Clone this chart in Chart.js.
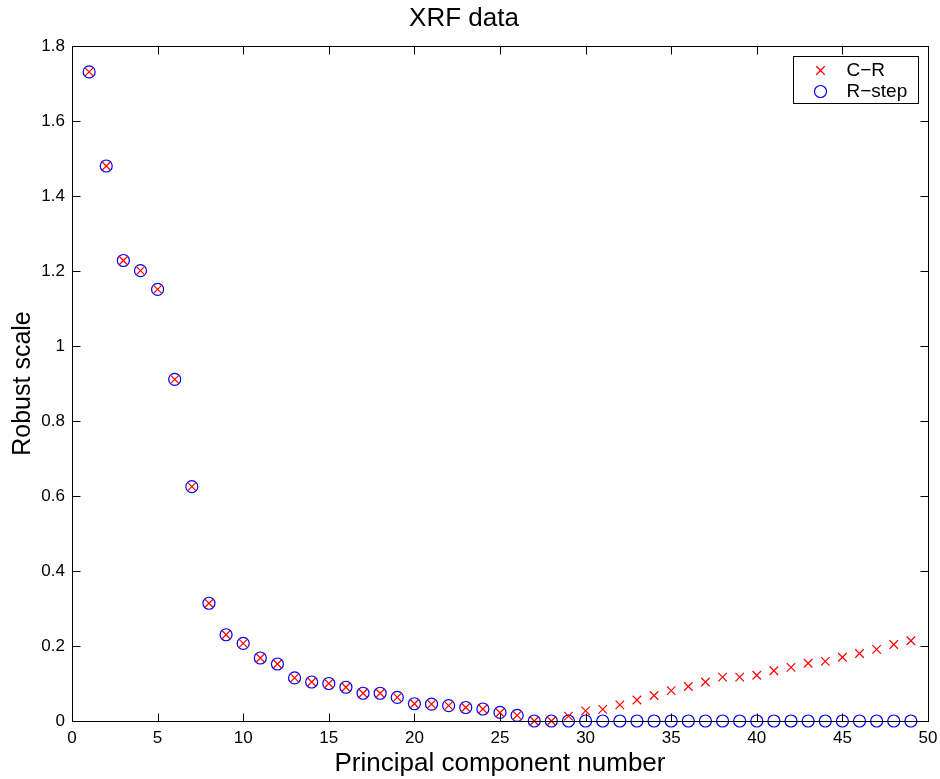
<!DOCTYPE html>
<html>
<head>
  <meta charset="utf-8">
  <title>XRF data</title>
  <script src="https://cdn.jsdelivr.net/npm/chart.js"></script>
  <style>
    body {
      margin: 0;
      padding: 0;
      background: #ffffff;
    }
    #wrap {
      width: 940px;
      height: 779px;
    }
  </style>
</head>
<body>
  <div id="wrap"><canvas id="chartXRF" width="940" height="779"></canvas></div>

  <script>
    // data
    const components = [1, 2, 3, 4, 5, 6, 7, 8, 9, 10, 11, 12, 13, 14, 15, 16, 17, 18, 19, 20,
      21, 22, 23, 24, 25, 26, 27, 28, 29, 30, 31, 32, 33, 34, 35, 36, 37, 38, 39, 40,
      41, 42, 43, 44, 45, 46, 47, 48, 49];

    const scaleCR = [1.731, 1.480, 1.228, 1.201, 1.151, 0.911, 0.625, 0.314, 0.230, 0.207,
      0.168, 0.152, 0.115, 0.104, 0.100, 0.090, 0.074, 0.074, 0.063, 0.046,
      0.045, 0.041, 0.036, 0.032, 0.022, 0.015, 0.000, 0.000, 0.013, 0.027,
      0.031, 0.043, 0.056, 0.068, 0.081, 0.092, 0.104, 0.117, 0.117, 0.122,
      0.134, 0.143, 0.154, 0.159, 0.170, 0.180, 0.191, 0.204, 0.214];

    const scaleRstep = [1.731, 1.480, 1.228, 1.201, 1.151, 0.911, 0.625, 0.314, 0.230, 0.207,
      0.168, 0.152, 0.115, 0.104, 0.100, 0.090, 0.074, 0.074, 0.063, 0.046,
      0.045, 0.041, 0.036, 0.032, 0.023, 0.015, 0.000, 0.000, 0.000, 0.000,
      0.000, 0.000, 0.000, 0.000, 0.000, 0.000, 0.000, 0.000, 0.000, 0.000,
      0.000, 0.000, 0.000, 0.000, 0.000, 0.000, 0.000, 0.000, 0.000];

    const seriesNames = ['C\u2212R', 'R\u2212step'];
    const xTicks = { min: 0, max: 50, step: 5 };
    const yTicks = { min: 0, max: 1.8, step: 0.2 };

    const FONT = "'Liberation Sans', Arial, Helvetica, sans-serif";

    function toPoints(values) {
      return components.map((c, i) => ({ x: c, y: values[i] }));
    }

    // box around the plot with inward ticks on all four sides
    const framePlugin = {
      id: 'frame',
      afterDraw(chart) {
        const ctx = chart.ctx;
        const a = chart.chartArea;
        const L = Math.round(a.left) + 0.5, R = Math.round(a.right) + 0.5;
        const T = Math.round(a.top) + 0.5, B = Math.round(a.bottom) + 0.5;
        const len = 8;
        ctx.save();
        ctx.strokeStyle = '#000';
        ctx.lineWidth = 1;
        ctx.beginPath();
        ctx.rect(L, T, R - L, B - T);
        chart.scales.x.ticks.forEach(t => {
          const px = Math.round(chart.scales.x.getPixelForValue(t.value)) + 0.5;
          ctx.moveTo(px, B); ctx.lineTo(px, B - len);
          ctx.moveTo(px, T); ctx.lineTo(px, T + len);
        });
        chart.scales.y.ticks.forEach(t => {
          const py = Math.round(chart.scales.y.getPixelForValue(t.value)) + 0.5;
          ctx.moveTo(L, py); ctx.lineTo(L + len, py);
          ctx.moveTo(R, py); ctx.lineTo(R - len, py);
        });
        ctx.stroke();
        ctx.restore();
      }
    };

    // matlab style legend box in the top right corner
    const legendBoxPlugin = {
      id: 'legendBox',
      afterDraw(chart) {
        const ctx = chart.ctx;
        const a = chart.chartArea;
        const boxW = 125, boxH = 47;
        const bx = Math.round(a.right - 10 - boxW) + 0.5;
        const by = Math.round(a.top + 10) + 0.5;
        ctx.save();
        ctx.fillStyle = '#fff';
        ctx.fillRect(bx, by, boxW, boxH);
        ctx.strokeStyle = '#000';
        ctx.lineWidth = 1;
        ctx.strokeRect(bx, by, boxW, boxH);
        ctx.font = '19px ' + FONT;
        ctx.textBaseline = 'middle';
        ctx.textAlign = 'left';
        chart.data.datasets.forEach((ds, i) => {
          const rowY = by + 14 + i * 21;
          ctx.strokeStyle = ds.borderColor;
          ctx.fillStyle = ds.backgroundColor;
          ctx.lineWidth = ds.pointBorderWidth;
          Chart.helpers.drawPoint(ctx, {
            pointStyle: ds.pointStyle,
            radius: ds.pointRadius,
            borderWidth: ds.pointBorderWidth,
            rotation: 0
          }, bx + 27, rowY);
          ctx.fillStyle = '#000';
          ctx.fillText(ds.label, bx + 53, rowY);
        });
        ctx.restore();
      }
    };

    const ctx = document.getElementById('chartXRF').getContext('2d');
    const chart = new Chart(ctx, {
      type: 'scatter',
      data: {
        datasets: [
          {
            label: seriesNames[0],
            data: toPoints(scaleCR),
            pointStyle: 'crossRot',
            pointRadius: 6,
            borderColor: '#ff0000',
            backgroundColor: '#ff0000',
            pointBorderWidth: 1.2,
            clip: false
          },
          {
            label: seriesNames[1],
            data: toPoints(scaleRstep),
            pointStyle: 'circle',
            pointRadius: 6,
            borderColor: '#0000ff',
            backgroundColor: 'rgba(0,0,0,0)',
            pointBorderWidth: 1.2,
            clip: false
          }
        ]
      },
      options: {
        responsive: false,
        animation: false,
        events: [],
        layout: { padding: { left: 0, right: 12, top: 0, bottom: 0 } },
        plugins: {
          legend: { display: false },
          tooltip: { enabled: false },
          title: {
            display: true,
            text: 'XRF data',
            color: '#000',
            font: { family: FONT, size: 26, weight: 'normal' },
            padding: { top: 3, bottom: 11.8 }
          }
        },
        scales: {
          x: {
            type: 'linear',
            min: xTicks.min,
            max: xTicks.max,
            grid: { display: false, drawTicks: false },
            border: { display: false },
            ticks: {
              stepSize: xTicks.step,
              color: '#000',
              padding: 7,
              maxRotation: 0,
              font: { family: FONT, size: 17 }
            },
            title: {
              display: true,
              text: 'Principal component number',
              color: '#000',
              font: { family: FONT, size: 26 },
              padding: { top: 0, bottom: 0 }
            },
            afterFit(scale) {
              scale.height = 58;
              scale.paddingRight = 0;
              scale.paddingLeft = 0;
            }
          },
          y: {
            type: 'linear',
            min: yTicks.min,
            max: yTicks.max,
            grid: { display: false, drawTicks: false },
            border: { display: false },
            ticks: {
              stepSize: yTicks.step,
              color: '#000',
              padding: 7,
              font: { family: FONT, size: 17 },
              callback: v => String(Number(v.toFixed(1)))
            },
            title: {
              display: true,
              text: 'Robust scale',
              color: '#000',
              font: { family: FONT, size: 25 },
              padding: { top: 8, bottom: 0 }
            },
            afterFit(scale) { scale.width = 72; }
          }
        }
      },
      plugins: [framePlugin, legendBoxPlugin]
    });
  </script>
</body>
</html>
